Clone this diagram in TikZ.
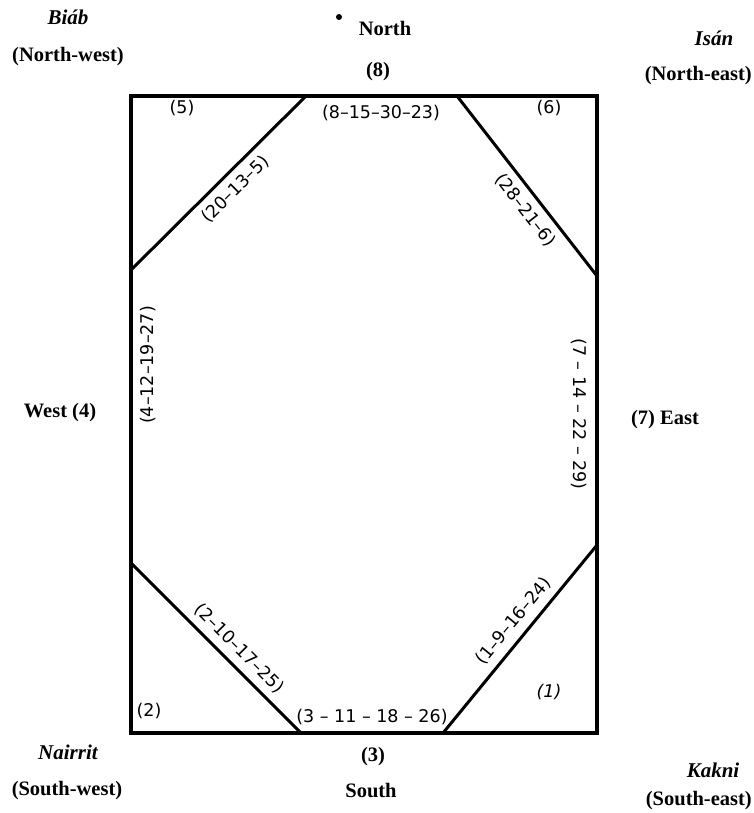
\documentclass[tikz,border=0pt]{standalone}
\usepackage{fontspec}
\setmainfont{Liberation Serif}
\newfontfamily\numfont{DejaVu Sans}
\begin{document}
\begin{tikzpicture}[x=1pt,y=-1pt,
  frame/.style={line width=3.6pt, line join=miter},
  diag/.style={line width=3pt},
  outer/.style={font=\fontsize{20.5}{22}\selectfont\bfseries, inner sep=0pt},
  dname/.style={font=\fontsize{21}{23}\selectfont\bfseries\itshape, inner sep=0pt},
  num/.style={font=\numfont\fontsize{17.5}{19}\selectfont, inner sep=0pt},
  seg/.style={num, sloped}]
\useasboundingbox (0,0) rectangle (753,813);
% corners of the frame
\coordinate (A) at (131,96);
\coordinate (B) at (597,96);
\coordinate (C) at (597,733);
\coordinate (D) at (131,733);
% chamfer end points
\coordinate (tl1) at (306,96);
\coordinate (tl2) at (131,270);
\coordinate (tr1) at (457,96);
\coordinate (tr2) at (597,276);
\coordinate (br1) at (597,545);
\coordinate (br2) at (443,733);
\coordinate (bl1) at (131,563);
\coordinate (bl2) at (301,733);
\draw[frame] (A) -- (B) -- (C) -- (D) -- cycle;
\draw[diag] (tl2) -- node[seg, pos=0.53, below=7pt] {(20–13–5)} (tl1);
\draw[diag] (tr1) -- node[seg, pos=0.58, below=7pt] {(28–21–6)} (tr2);
\draw[diag] (bl1) -- node[seg, pos=0.57, above=7pt] {(2–10–17–25)} (bl2);
\draw[diag] (br2) -- node[seg, pos=0.54, above=7pt] {(1–9–16–24)} (br1);
% labels inside the frame
\node[num] (n8) at (381,113) {(8–15–30–23)};
\node[num] (n3) at (372,717) {(3 – 11 – 18 – 26)};
\node[num, rotate=90] (n4) at (148,365) {(4–12–19–27)};
\node[num, rotate=-90] (n7) at (579,414) {(7 – 14 – 22 – 29)};
\node[num] (c5) at (182,108) {(5)};
\node[num] (c6) at (549,108) {(6)};
\node[num] (c2) at (149,711) {(2)};
\node[num, font=\numfont\itshape\fontsize{17.5}{19}\selectfont] (c1) at (549,692) {(1)};
% outer labels
\fill (339,17) circle (3pt);
\node[outer] (north) at (385,28) {North};
\node[outer] (p8) at (378,72) {(8)};
\node[dname] (biab) at (68,17) {Biáb};
\node[outer] (nw) at (68,57) {(North-west)};
\node[dname] (isan) at (714,38) {Isán};
\node[outer, anchor=east] (ne) at (752,76) {(North-east)};
\node[outer] (west) at (60,413) {West (4)};
\node[outer] (east) at (665,420) {(7) East};
\node[outer] (p3) at (373,757) {(3)};
\node[outer] (south) at (371,791) {South};
\node[dname] (nair) at (68,752) {Nairrit};
\node[outer] (sw) at (67,791) {(South-west)};
\node[dname] (kakni) at (713,770) {Kakni};
\node[outer, anchor=east] (se) at (752,801) {(South-east)};
\end{tikzpicture}
\end{document}
